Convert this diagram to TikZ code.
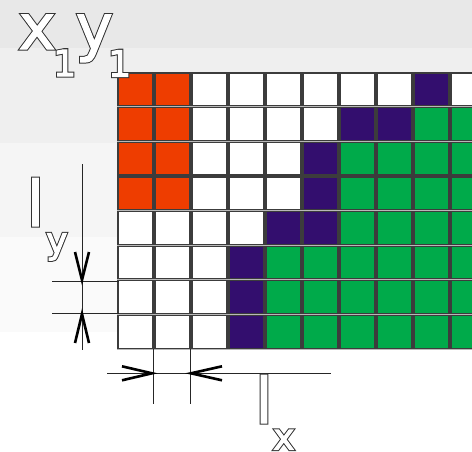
\documentclass[tikz,border=0pt]{standalone}
\usepackage{fontspec}
\usetikzlibrary{calc}
\newfontfamily\dv{DejaVu Sans}
\newcommand{\outl}[1]{\rlap{\special{pdf:literal 2 Tr 0.2 0.2 0.2 RG 3.0 w}#1\special{pdf:literal 0 Tr}}\special{pdf:literal 2 Tr 1 1 1 RG 1.0 w}#1\special{pdf:literal 0 Tr}}
\definecolor{cred}{HTML}{EE3D00}
\definecolor{cpur}{HTML}{330E6E}
\definecolor{cgrn}{HTML}{00AA4A}
\definecolor{cW}{HTML}{FFFFFF}
\definecolor{bandA}{HTML}{E8E8E8}
\definecolor{bandB}{HTML}{EFEFEF}
\definecolor{bandC}{HTML}{F5F5F5}
\definecolor{bandD}{HTML}{FAFAFA}
\definecolor{celledge}{HTML}{3C3C3C}
\definecolor{cellgap}{HTML}{B8B8B8}
\tikzset{
  cellbox/.style={draw=celledge, line width=1.1pt},
  bigtxt/.style={inner sep=0pt, anchor=base west, text=white, font=\dv\fontsize{63}{70}\selectfont},
  subtxt/.style={inner sep=0pt, anchor=base west, text=white, font=\dv\fontsize{36}{40}\selectfont},
  dimline/.style={draw=black!85, line width=0.9pt},
  barb/.style={draw=black, line width=2.6pt, line join=miter, line cap=butt}
}
\begin{document}
\begin{tikzpicture}[x=1pt,y=-1pt]
\useasboundingbox (0,0) rectangle (472,451);
\begin{scope}
\clip (0,0) rectangle (472,451);
% background bands
\fill[bandA] (0,0) rectangle (472,48);
\fill[bandB] (0,48) rectangle (472,143);
\fill[bandC] (0,143) rectangle (472,237);
\fill[bandD] (0,237) rectangle (472,332);
\fill[white] (0,332) rectangle (472,451);
% grid
\fill[cellgap] (116.5,71.5) rectangle (490,349.8);
\foreach \r/\rowcols in {
 0/{cred,cred,cW,cW,cW,cW,cW,cW,cpur,cW,cW},
 1/{cred,cred,cW,cW,cW,cW,cpur,cpur,cgrn,cgrn,cgrn},
 2/{cred,cred,cW,cW,cW,cpur,cgrn,cgrn,cgrn,cgrn,cgrn},
 3/{cred,cred,cW,cW,cW,cpur,cgrn,cgrn,cgrn,cgrn,cgrn},
 4/{cW,cW,cW,cW,cpur,cpur,cgrn,cgrn,cgrn,cgrn,cgrn},
 5/{cW,cW,cW,cpur,cgrn,cgrn,cgrn,cgrn,cgrn,cgrn,cgrn},
 6/{cW,cW,cW,cpur,cgrn,cgrn,cgrn,cgrn,cgrn,cgrn,cgrn},
 7/{cW,cW,cW,cpur,cgrn,cgrn,cgrn,cgrn,cgrn,cgrn,cgrn}} {
  \foreach \col [count=\c from 0] in \rowcols {
    \pgfmathsetmacro{\xa}{117+37*\c+1.0}
    \pgfmathsetmacro{\ya}{72+34.65*\r+1.0}
    \pgfmathsetmacro{\xb}{117+37*(\c+1)-1.0}
    \pgfmathsetmacro{\yb}{72+34.65*(\r+1)-1.0}
    \path[cellbox, fill=\col] (\xa,\ya) rectangle (\xb,\yb);
  }
}
\end{scope}
% vertical dimension
\coordinate (vt) at (82,164);
\coordinate (vb) at (82,350);
\coordinate (e1a) at (52,281.5);
\coordinate (e1b) at (119,281.5);
\coordinate (e2a) at (52,313);
\coordinate (e2b) at (119,313);
\draw[dimline] (vt) -- (vb);
\draw[dimline] (e1a) -- (e1b);
\draw[dimline] (e2a) -- (e2b);
\coordinate (dtip) at (82,280);
\coordinate (utip) at (82,314);
\draw[barb] ($(dtip)+(-7,-28)$) -- (dtip) -- ($(dtip)+(7,-28)$);
\draw[barb] ($(utip)+(-7,29)$) -- (utip) -- ($(utip)+(7,29)$);
% horizontal dimension
\coordinate (hl) at (107,373.3);
\coordinate (hr) at (331,373.3);
\coordinate (x1a) at (153,349);
\coordinate (x1b) at (153,404);
\coordinate (x2a) at (190.5,349);
\coordinate (x2b) at (190.5,404);
\draw[dimline] (hl) -- (hr);
\draw[dimline] (x1a) -- (x1b);
\draw[dimline] (x2a) -- (x2b);
\coordinate (rtip) at (152,373.3);
\coordinate (ltip) at (191,373.3);
\draw[barb] ($(rtip)+(-30,-7)$) -- (rtip) -- ($(rtip)+(-30,7)$);
\draw[barb] ($(ltip)+(31,-7)$) -- (ltip) -- ($(ltip)+(31,7)$);
% labels
\node[bigtxt] (tx) at (18.3,49) {\outl{x}};
\node[subtxt] (t1) at (53,76) {\outl{1}};
\node[bigtxt] (ty) at (75.5,49) {\outl{y}};
\node[subtxt] (t2) at (108,76.5) {\outl{1}};
\node[bigtxt] (ly) at (26.5,226) {\outl{l}};
\node[subtxt] (ysub) at (46,253) {\outl{y}};
\node[bigtxt] (lx) at (255,423) {\outl{l}};
\node[subtxt] (xsub) at (273,449.5) {\outl{x}};
\end{tikzpicture}
\end{document}
